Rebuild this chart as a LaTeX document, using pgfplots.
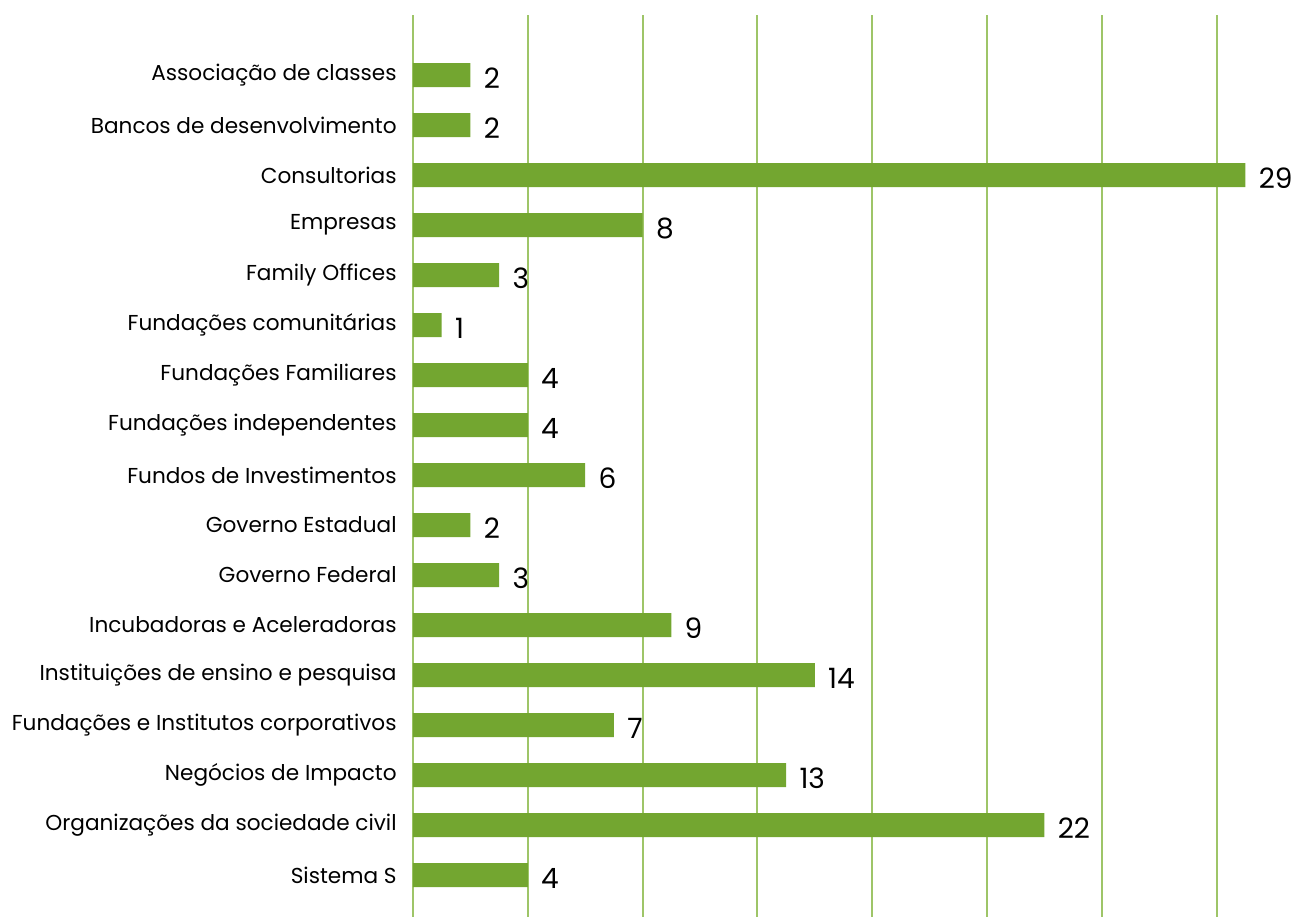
\documentclass[border=0pt]{standalone}
\usepackage{fontspec}
\setmainfont{Poppins}
\usepackage{pgfplots}
\pgfplotsset{compat=1.18}
\definecolor{bargreen}{RGB}{115,166,48}
\definecolor{gridgreen}{RGB}{158,197,104}
\begin{document}
\begin{tikzpicture}
\begin{axis}[
  scale only axis, width=431.25pt, height=451pt,
  xbar, bar width=12pt,
  xmin=0, xmax=30.05, ymin=-1.2, ymax=16.84, y dir=reverse,
  axis line style={draw=none},
  major tick length=0pt,
  xmajorgrids, grid style={gridgreen, line width=1pt},
  xtick={0,4,...,28}, xticklabels={},
  ytick={0,...,16},
  /pgf/number format/assume math mode=true,
  yticklabels={Associação de classes, Bancos de desenvolvimento, Consultorias, Empresas, Family Offices, Fundações comunitárias, Fundações Familiares, Fundações independentes, Fundos de Investimentos, Governo Estadual, Governo Federal, Incubadoras e Aceleradoras, Instituições de ensino e pesquisa, Fundações e Institutos corporativos, Negócios de Impacto, Organizações da sociedade civil, Sistema S},
  y tick label style={font=\fontsize{10.8}{13}\selectfont, inner xsep=0pt, xshift=-8pt},
  point meta=x,
  nodes near coords,
  nodes near coords style={font=\fontsize{14}{16}\selectfont, anchor=west, inner xsep=0pt, xshift=6.5pt, yshift=-1.5pt},
]
\addplot[fill=bargreen, draw=none] coordinates {
 (2,0) (2,1) (29,2) (8,3) (3,4) (1,5) (4,6) (4,7) (6,8) (2,9) (3,10) (9,11) (14,12) (7,13) (13,14) (22,15) (4,16)};
\coordinate (O) at (axis cs:0,16.84);
\end{axis}
\pgfresetboundingbox
\path ([xshift=-206.5pt]O) rectangle ([xshift=441pt, yshift=458.5pt]O);
\end{tikzpicture}
\end{document}
